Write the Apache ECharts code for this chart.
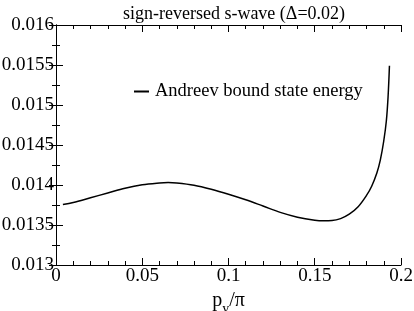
<!DOCTYPE html>
<html>
<head>
<meta charset="utf-8">
<script src="https://cdn.jsdelivr.net/npm/echarts@6/dist/echarts.min.js"></script>
<style>
html,body{margin:0;padding:0;background:#fff;}
#chart{width:414px;height:311px;}
</style>
</head>
<body>
<div id="chart"></div>
<script>
var titleText = 'sign-reversed s-wave (\u0394=0.02)';
var seriesName = 'Andreev bound state energy';
var py = [0.004, 0.01, 0.02, 0.03, 0.04, 0.05, 0.06, 0.065, 0.07, 0.08, 0.09, 0.10, 0.11, 0.12, 0.13, 0.14, 0.15, 0.155, 0.16, 0.165, 0.17, 0.175, 0.18, 0.183, 0.186, 0.188, 0.19, 0.1915, 0.1925, 0.1933];
var energy = [0.013755, 0.01378, 0.01384, 0.0139, 0.01396, 0.014003, 0.014025, 0.01403, 0.014025, 0.013997, 0.013947, 0.013885, 0.013815, 0.013737, 0.013658, 0.013598, 0.01356, 0.013552, 0.013555, 0.01358, 0.013635, 0.013725, 0.01387, 0.013985, 0.01415, 0.01431, 0.01455, 0.0148, 0.0151, 0.01549];
var xTicks = [0, 0.05, 0.1, 0.15, 0.2];
var yTicks = [0.013, 0.0135, 0.014, 0.0145, 0.015, 0.0155, 0.016];

var font = "'Liberation Serif', 'DejaVu Serif', serif";
var data = py.map(function(p, i){ return [p, energy[i]]; });
var chart = echarts.init(document.getElementById('chart'));
var axisLine = {show:true, lineStyle:{color:'#000', width:1}};
var tickStyle = {color:'#000', width:1};
chart.setOption({
  animation:false,
  backgroundColor:'#fff',
  title:{text:titleText, left:229, textAlign:'center', top:0,
    textStyle:{fontFamily:font, fontWeight:'normal', fontSize:18, color:'#000'}},
  legend:{left:129, top:77, itemWidth:15, itemHeight:2, icon:'rect',
    data:[{name:seriesName}],
    textStyle:{fontFamily:font, fontSize:18.5, color:'#000', padding:[0,0,0,1]}},
  grid:{left:56, right:13, top:25, bottom:46, containLabel:false, outerBoundsMode:'none'},
  xAxis:[{
    type:'value', min:xTicks[0], max:xTicks[xTicks.length-1], interval:0.05,
    axisLine:axisLine,
    axisTick:{inside:true, length:7, lineStyle:tickStyle},
    minorTick:{show:true, splitNumber:5, length:4, lineStyle:tickStyle},
    splitLine:{show:false},
    axisLabel:{fontFamily:font, fontSize:19, color:'#000', margin:2,
      formatter:function(v){ return String(+v.toFixed(3)); }},
    name:'{a|p}{s|y}{a|/\u03c0}', nameLocation:'middle', nameGap:7,
    nameTextStyle:{rich:{
      a:{fontFamily:font, fontSize:20, color:'#000', lineHeight:20, verticalAlign:'top'},
      s:{fontFamily:font, fontSize:14, color:'#000', lineHeight:20, verticalAlign:'top', padding:[11,0,0,0]}
    }}
  },{
    type:'value', position:'top', min:xTicks[0], max:xTicks[xTicks.length-1], interval:0.05,
    axisLine:axisLine,
    axisTick:{inside:true, length:7, lineStyle:tickStyle},
    minorTick:{show:true, splitNumber:5, length:4, lineStyle:tickStyle},
    splitLine:{show:false}, axisLabel:{show:false}
  }],
  yAxis:[{
    type:'value', min:yTicks[0], max:yTicks[yTicks.length-1], interval:0.0005,
    axisLine:axisLine,
    axisTick:{inside:true, length:7, lineStyle:tickStyle},
    minorTick:{show:true, splitNumber:2, length:4, lineStyle:tickStyle},
    splitLine:{show:false},
    axisLabel:{fontFamily:font, fontSize:19, color:'#000', margin:2,
      formatter:function(v){ return String(+v.toFixed(5)); }}
  },{
    type:'value', position:'right', min:yTicks[0], max:yTicks[yTicks.length-1], interval:0.0005,
    axisLine:axisLine,
    axisTick:{inside:true, length:7, lineStyle:tickStyle},
    minorTick:{show:true, splitNumber:2, length:4, lineStyle:tickStyle},
    splitLine:{show:false}, axisLabel:{show:false}
  }],
  series:[{
    name:seriesName, type:'line', data:data, smooth:0.35, showSymbol:false,
    xAxisIndex:0, yAxisIndex:0,
    lineStyle:{color:'#000', width:1.5}, itemStyle:{color:'#000'}
  }]
});
</script>
</body>
</html>
